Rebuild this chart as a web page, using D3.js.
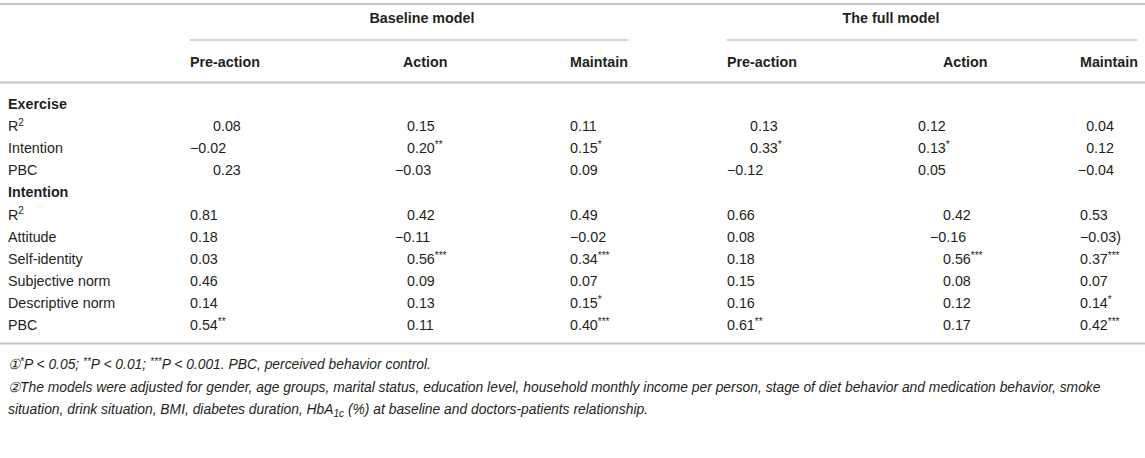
<!DOCTYPE html>
<html><head><meta charset="utf-8">
<script src="https://cdn.jsdelivr.net/npm/d3@7"></script>
<style>
body{margin:0;background:#fff}
svg{display:block}
text{font-family:"Liberation Sans",Arial,Helvetica,sans-serif;fill:#231f20;font-size:14.3px}
</style>
</head><body>
<svg id="c" width="1145" height="458"></svg>
<script>
// ---------- data ----------
const groups = ["Baseline model", "The full model"];
const stages = ["Pre-action", "Action", "Maintain"];
const columns = ["b_pre", "b_act", "b_mai", "f_pre", "f_act", "f_mai"];
const sections = ["Exercise", "Intention"];
const exerciseRows = ["R2", "Intention", "PBC"];
const intentionRows = ["R2", "Attitude", "Self-identity", "Subjective norm", "Descriptive norm", "PBC"];
const exerciseValues = [
  ["0.08", "0.15", "0.11", "0.13", "0.12", "0.04"],
  ["−0.02", "0.20**", "0.15*", "0.33*", "0.13*", "0.12"],
  ["0.23", "−0.03", "0.09", "−0.12", "0.05", "−0.04"]
];
const intentionValues = [
  ["0.81", "0.42", "0.49", "0.66", "0.42", "0.53"],
  ["0.18", "−0.11", "−0.02", "0.08", "−0.16", "−0.03)"],
  ["0.03", "0.56***", "0.34***", "0.18", "0.56***", "0.37***"],
  ["0.46", "0.09", "0.07", "0.15", "0.08", "0.07"],
  ["0.14", "0.13", "0.15*", "0.16", "0.12", "0.14*"],
  ["0.54**", "0.11", "0.40***", "0.61**", "0.17", "0.42***"]
];

// ---------- layout (separate from data) ----------
const W = 1145;
const svg = d3.select("#c");
const colX = d3.scaleOrdinal().domain(columns).range([190, 403, 570, 727, 943, 1080]);
const groupSpan = d3.scaleOrdinal().domain(groups).range([[190, 628], [727, 1137]]);
const groupCenter = d3.scaleOrdinal().domain(groups).range([422, 891]);
// [mode, x, hang]
const align = {
  Exercise:  [["dec", 213, 23], ["dec", 407, 12], ["start", 570, 0], ["dec", 750, 23], ["start", 918, 0], ["end", 1114, 0]],
  Intention: [["start", 190, 0], ["dec", 407, 12], ["start", 570, 0], ["start", 727, 0], ["dec", 943, 13], ["start", 1080, 0]]
};
const bodyKeys = [];
sections.forEach(s => {
  bodyKeys.push({key: s, label: s, section: s, head: true});
  const rows = s === "Exercise" ? exerciseRows : intentionRows;
  const vals = s === "Exercise" ? exerciseValues : intentionValues;
  rows.forEach((r, i) => bodyKeys.push({key: s + "_" + r, label: r, section: s, values: vals[i]}));
});
const y = d3.scalePoint().domain(bodyKeys.map(d => d.key)).range([104, 325]);

const line = (x1, x2, yy, w) => svg.append("line").attr("x1", x1).attr("x2", x2)
  .attr("y1", yy).attr("y2", yy).attr("stroke", "#c4c4c4").attr("stroke-width", w);
line(0, W, 4, 2);
groups.forEach(g => line(groupSpan(g)[0], groupSpan(g)[1], 40, 1.5));
line(0, W, 82.5, 2);
line(0, W, 343.5, 2);

groups.forEach(g => {
  svg.append("text").attr("x", groupCenter(g)).attr("y", 23).attr("text-anchor", "middle")
    .attr("font-weight", "bold").text(g);
});
columns.forEach((c, i) => {
  svg.append("text").attr("x", colX(c)).attr("y", 67).attr("font-weight", "bold").text(stages[i % 3]);
});

function addValue(str, x, yy, mode, hang) {
  const m = str.match(/^([^*]*)(\**)(.*)$/);
  const num = m[1], stars = m[2], rest = m[3];
  let x0 = x, anchor = "start";
  if (mode === "dec") { if (num.startsWith("−")) x0 = x - hang; }
  else if (mode === "end") anchor = "end";
  const t = svg.append("text").attr("x", x0).attr("y", yy).attr("text-anchor", anchor);
  t.append("tspan").text(num);
  if (stars) t.append("tspan").attr("font-size", "10px").attr("dy", -5).text(stars);
  if (rest) t.append("tspan").attr("dy", stars ? 5 : 0).text(rest);
}

bodyKeys.forEach(d => {
  const yy = y(d.key) + 5;
  const lab = svg.append("text").attr("x", 8).attr("y", yy);
  if (d.head) { lab.attr("font-weight", "bold").text(d.label); return; }
  if (d.label === "R2") {
    lab.append("tspan").text("R");
    lab.append("tspan").attr("font-size", "10px").attr("dy", -5.5).text("2");
  } else lab.text(d.label);
  d.values.forEach((v, i) => {
    const [mode, x, hang] = align[d.section][i];
    addValue(v, x, yy, mode, hang);
  });
});

// footnotes
const FS = "13.85px";
const fn = svg.append("g").style("font-style", "italic");
const f1 = fn.append("text").attr("x", 8).attr("y", 369).style("font-size", FS);
f1.append("tspan").text("①");
f1.append("tspan").attr("font-size", "10px").attr("dy", -4.5).text("*");
f1.append("tspan").attr("dy", 4.5).text("P < 0.05; ");
f1.append("tspan").attr("font-size", "10px").attr("dy", -4.5).text("**");
f1.append("tspan").attr("dy", 4.5).text("P < 0.01; ");
f1.append("tspan").attr("font-size", "10px").attr("dy", -4.5).text("***");
f1.append("tspan").attr("dy", 4.5).text("P < 0.001. PBC, perceived behavior control.");
fn.append("text").attr("x", 8).attr("y", 392).style("font-size", FS)
  .text("②The models were adjusted for gender, age groups, marital status, education level, household monthly income per person, stage of diet behavior and medication behavior, smoke");
const f3 = fn.append("text").attr("x", 8).attr("y", 414).style("font-size", FS);
f3.append("tspan").text("situation, drink situation, BMI, diabetes duration, HbA");
f3.append("tspan").attr("font-size", "10px").attr("dy", 3).text("1c");
f3.append("tspan").attr("dy", -3).text(" (%) at baseline and doctors-patients relationship.");
</script>
</body></html>
